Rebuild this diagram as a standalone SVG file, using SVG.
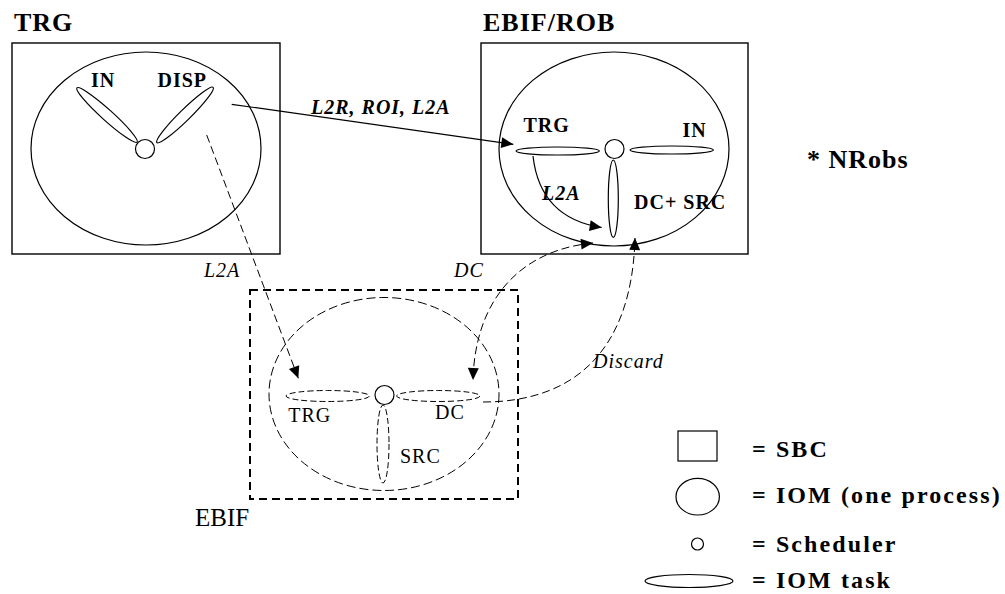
<svg xmlns="http://www.w3.org/2000/svg" width="1005" height="594" viewBox="0 0 1005 594">
<defs>
<marker id="ah" markerUnits="userSpaceOnUse" markerWidth="12" markerHeight="11" refX="12" refY="5.5" orient="auto-start-reverse" overflow="visible"><path d="M0,0 L12,5.5 L0,11 z" fill="#000"/></marker>
<style>
.t{font-family:"Liberation Serif","Times New Roman",serif;fill:#000}
.ttl{font-size:26px;font-weight:bold;letter-spacing:1px}
.lb{font-size:20px;font-weight:bold;letter-spacing:1px}
.lbi{font-size:20px;font-weight:bold;font-style:italic;letter-spacing:1px}
.lr{font-size:20px;letter-spacing:1px}
.li{font-size:20px;font-style:italic;letter-spacing:1px}
.lg{font-size:24px;font-weight:bold;letter-spacing:2.1px}
.s{fill:none;stroke:#000;stroke-width:1.2}
.sf{fill:#fff;stroke:#000;stroke-width:1.2}
.box{fill:none;stroke:#000;stroke-width:1.4}
.dbox{fill:none;stroke:#000;stroke-width:2;stroke-dasharray:8 5}
.d{fill:none;stroke:#000;stroke-width:1;stroke-dasharray:9 4}
.dt{fill:none;stroke:#000;stroke-width:1;stroke-dasharray:6 3}
.c{fill:none;stroke:#000;stroke-width:1.2}
.cd{fill:none;stroke:#000;stroke-width:1;stroke-dasharray:8 4}
</style>
</defs>
<rect x="0" y="0" width="1005" height="594" fill="#fff"/>

<g id="node-trg">
<rect class="box" x="12" y="43" width="268" height="211"/>
<ellipse class="s" cx="146" cy="148.5" rx="115" ry="96.5"/>
<ellipse class="s" cx="0" cy="0" rx="40.5" ry="5.5" transform="translate(107,115) rotate(42)"/>
<ellipse class="s" cx="0" cy="0" rx="39.5" ry="5.5" transform="translate(185,115) rotate(-44.5)"/>
<circle class="sf" cx="145" cy="149" r="9.5"/>
<text class="t ttl" x="14" y="31">TRG</text>
<text class="t lb" x="91" y="87">IN</text>
<text class="t lb" x="157.5" y="87">DISP</text>
</g>

<g id="node-ebif-rob">
<rect class="box" x="481" y="43" width="267" height="211"/>
<ellipse class="s" cx="614" cy="149" rx="115" ry="97"/>
<ellipse class="s" cx="557.7" cy="151" rx="41.7" ry="4"/>
<ellipse class="s" cx="671.7" cy="150" rx="41.7" ry="4"/>
<ellipse class="s" cx="613.3" cy="198.7" rx="5" ry="38.7"/>
<circle class="sf" cx="614.5" cy="149" r="9.5"/>
<text class="t ttl" x="483" y="31">EBIF/ROB</text>
<text class="t lb" x="523.5" y="132">TRG</text>
<text class="t lb" x="682.5" y="137">IN</text>
<text class="t lb" x="634" y="209">DC+ SRC</text>
</g>

<g id="node-ebif">
<rect class="dbox" x="250" y="290" width="268" height="209"/>
<ellipse class="d" cx="384" cy="394" rx="115" ry="96.5"/>
<ellipse class="dt" cx="327.7" cy="396" rx="41.7" ry="5.5"/>
<ellipse class="dt" cx="438.3" cy="396" rx="41.7" ry="5.5"/>
<ellipse class="dt" cx="383" cy="444" rx="6" ry="39"/>
<circle class="sf" cx="384.5" cy="395" r="9.5"/>
<text class="t lr" x="288.3" y="422.3">TRG</text>
<text class="t lr" x="435" y="419.3">DC</text>
<text class="t lr" x="400" y="463.3">SRC</text>
<text class="t" x="195" y="526" style="font-size:25px">EBIF</text>
</g>

<g id="connectors">
<path class="c" d="M231.7,104.3 L513.3,144.3" marker-end="url(#ah)"/>
<path class="c" d="M533,156 Q540,218 601.7,227.5" marker-end="url(#ah)"/>
<path class="cd" d="M206.7,135 L298.3,378.3" marker-end="url(#ah)"/>
<path class="cd" d="M593,243 C520,250 475,300 473,380" marker-start="url(#ah)" marker-end="url(#ah)"/>
<path class="cd" d="M483,402 C575,402 632,350 635,238" marker-end="url(#ah)"/>
<text class="t lbi" x="311" y="114">L2R, ROI, L2A</text>
<text class="t lbi" x="542" y="200">L2A</text>
<text class="t li" x="204" y="277">L2A</text>
<text class="t li" x="454" y="277">DC</text>
<text class="t li" x="593" y="368">Discard</text>
</g>

<g id="note">
<text class="t ttl" x="807" y="168">* NRobs</text>
</g>

<g id="legend">
<rect class="s" x="678" y="431" width="39" height="30"/>
<text class="t lg" x="752" y="457">= SBC</text>
<ellipse class="s" cx="697.7" cy="496.7" rx="21.7" ry="18.3"/>
<text class="t lg" x="752" y="503.3">= IOM (one process)</text>
<circle class="s" cx="697.5" cy="544" r="6"/>
<text class="t lg" x="752" y="552">= Scheduler</text>
<ellipse class="s" cx="689" cy="581" rx="44" ry="6.5"/>
<text class="t lg" x="752" y="588">= IOM task</text>
</g>
</svg>
